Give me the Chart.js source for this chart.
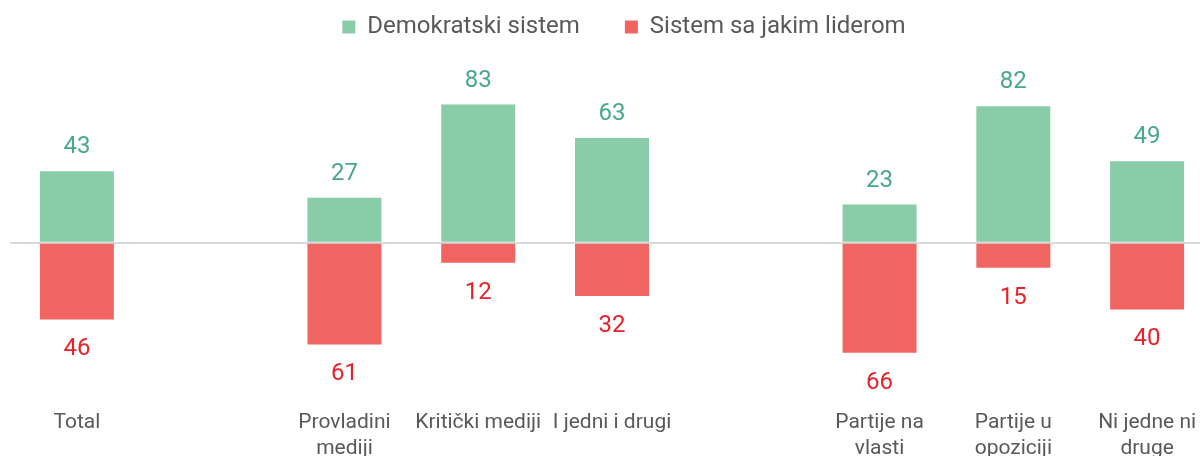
<!DOCTYPE html>
<html>
<head>
<meta charset="utf-8">
<script src="https://cdn.jsdelivr.net/npm/chart.js@4/dist/chart.umd.min.js"></script>
<style>
  html, body { margin: 0; padding: 0; background: #fff; overflow: hidden; }
  #wrap { position: absolute; left: 0; top: 0; width: 1238px; height: 456px; }
</style>
</head>
<body>
<div id="wrap"><canvas id="chart"></canvas></div>
<script>
const categories = [
  "Total",
  "",
  ["Provladini", "mediji"],
  "Kritički mediji",
  "I jedni i drugi",
  "",
  ["Partije na", "vlasti"],
  ["Partije u", "opoziciji"],
  ["Ni jedne ni", "druge"],
];
const demokratski = [43, null, 27, 83, 63, null, 23, 82, 49];
const lider = [46, null, 61, 12, 32, null, 66, 15, 40];

const GREEN = "#88cca8";
const RED = "#f06462";
const GREEN_TEXT = "#47a78a";
const RED_TEXT = "#e8212b";
const FONT = "Roboto";

// value labels above the green bars and below the red ones
const valueLabels = {
  id: "valueLabels",
  afterDatasetsDraw(chart) {
    const { ctx } = chart;
    ctx.save();
    ctx.font = `24px ${FONT}`;
    ctx.textAlign = "center";
    ctx.textBaseline = "middle";
    chart.data.datasets.forEach((ds, di) => {
      const meta = chart.getDatasetMeta(di);
      meta.data.forEach((bar, i) => {
        const v = ds.data[i];
        if (v == null) return;
        if (v >= 0) {
          ctx.fillStyle = GREEN_TEXT;
          ctx.fillText(String(v), bar.x, bar.y - 24);
        } else {
          ctx.fillStyle = RED_TEXT;
          ctx.fillText(String(-v), bar.x, bar.y + 30);
        }
      });
    });
    ctx.restore();
  },
};

new Chart(document.getElementById("chart"), {
  type: "bar",
  data: {
    labels: categories,
    datasets: [
      {
        label: "Demokratski sistem",
        data: demokratski,
        backgroundColor: GREEN,
      },
      {
        label: "Sistem sa jakim liderom",
        data: lider.map((v) => (v == null ? null : -v)),
        backgroundColor: RED,
      },
    ],
  },
  options: {
    responsive: true,
    maintainAspectRatio: false,
    animation: false,
    layout: { padding: { left: 10, right: 0, top: -30, bottom: -10 } },
    datasets: { bar: { categoryPercentage: 1, barPercentage: 0.553 } },
    plugins: {
      legend: {
        position: "top",
        labels: {
          font: { family: FONT, size: 24 },
          color: "#595959",
          boxWidth: 13,
          boxHeight: 13,
          padding: 45,
        },
      },
      tooltip: { enabled: false },
    },
    scales: {
      x: {
        stacked: true,
        grid: { display: false, drawTicks: false },
        border: { display: false },
        ticks: {
          font: { family: FONT, size: 21, lineHeight: 1.25 },
          color: "#595959",
          padding: 4,
          autoSkip: false,
          maxRotation: 0,
        },
      },
      y: {
        stacked: true,
        min: -97.7,
        max: 116.4,
        grid: {
          drawTicks: false,
          lineWidth: 2,
          color: (c) => (c.tick && c.tick.value === 0 ? "#d9d9d9" : "rgba(0,0,0,0)"),
        },
        border: { display: false },
        ticks: { display: false, stepSize: 10 },
        afterFit: (s) => { s.width = 0; },
      },
      y2: {
        position: "right",
        grid: { display: false },
        border: { display: false },
        ticks: { display: false },
        afterFit: (s) => { s.width = 24; },
      },
    },
  },
  plugins: [valueLabels],
});
</script>
</body>
</html>
